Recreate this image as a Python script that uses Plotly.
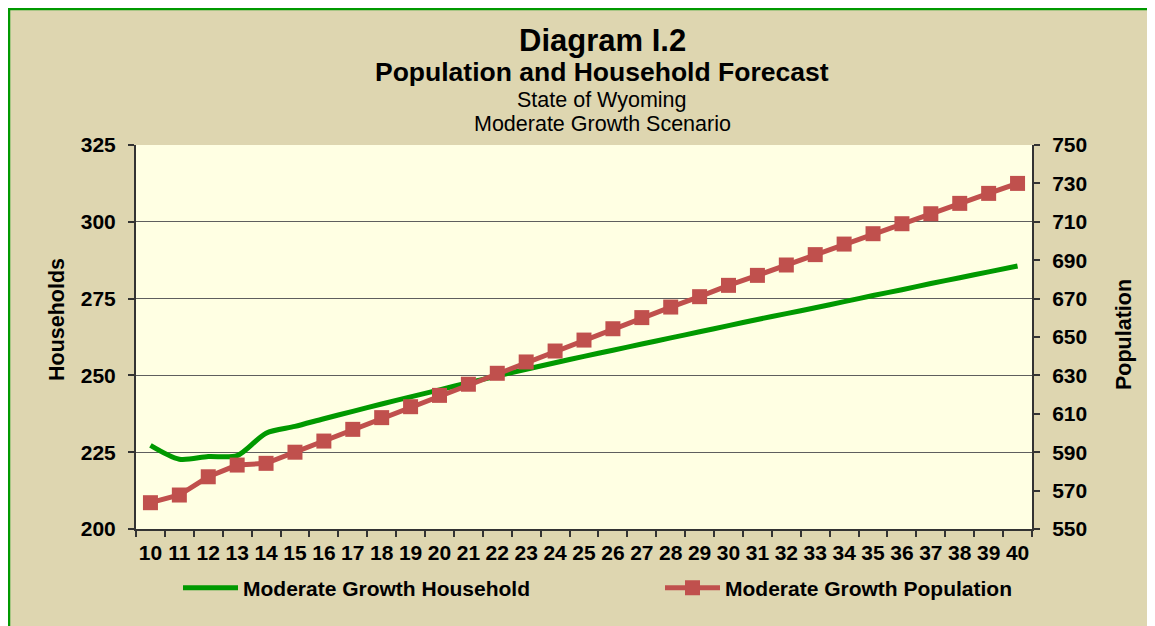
import plotly.graph_objects as go

years = ["10", "11", "12", "13", "14", "15", "16", "17", "18", "19", "20",
         "21", "22", "23", "24", "25", "26", "27", "28", "29", "30",
         "31", "32", "33", "34", "35", "36", "37", "38", "39", "40"]

households = [227.2, 222.7, 223.6, 223.9, 231.2, 233.4, 235.9, 238.3, 240.7, 243.0, 245.3,
              247.6, 249.8, 252.0, 254.1, 256.2, 258.2, 260.2, 262.2, 264.2, 266.2,
              268.2, 270.1, 272.0, 274.0, 276.0, 277.9, 279.9, 281.8, 283.7, 285.6]

population = [563.7, 567.7, 577.2, 583.3, 584.2, 590.0, 595.8, 601.9, 608.0, 613.7, 619.6,
              625.4, 631.1, 637.0, 642.7, 648.4, 654.3, 660.1, 665.6, 671.0, 676.9,
              682.1, 687.5, 692.9, 698.4, 703.8, 709.0, 714.2, 719.6, 724.8, 730.0]

left_ticks = [200, 225, 250, 275, 300, 325]
right_ticks = [550, 570, 590, 610, 630, 650, 670, 690, 710, 730, 750]

FONT = "Liberation Sans, Arial, sans-serif"
TAN = "#DED6B0"
PLOT_BG = "#FFFFE3"
GREEN = "#009900"
RED = "#C0504D"
AXIS = "#333333"
GRID = "#5E5E5E"

fig = go.Figure()
fig.add_trace(go.Scatter(
    x=years, y=households, name="Moderate Growth Household",
    mode="lines", line=dict(color=GREEN, width=5, shape="spline", smoothing=0.8),
    yaxis="y", legend="legend"))
fig.add_trace(go.Scatter(
    x=years, y=population, name="Moderate Growth Population",
    mode="lines+markers", line=dict(color=RED, width=5),
    marker=dict(symbol="square", size=15, color=RED),
    yaxis="y2", legend="legend2"))

tickfont = dict(family=FONT, size=21, color="black", weight="bold")
legfont = dict(family=FONT, size=21, color="black", weight="bold")

# page is offset by the 8px body margin; plot area spans page x 136..1032, y 145..529
fig.update_layout(
    width=1147, height=618,
    margin=dict(l=128, r=123, t=137, b=97),
    paper_bgcolor=TAN, plot_bgcolor=PLOT_BG,
    font=dict(family=FONT, color="black"),
    xaxis=dict(type="category", categoryorder="array", categoryarray=years,
               range=[-0.5, 30.5], tickson="boundaries", ticks="outside", ticklen=6,
               tickcolor=AXIS, tickwidth=1.5, showline=True, linecolor=AXIS, linewidth=2,
               showgrid=False, tickfont=tickfont, tickangle=0, ticklabelstandoff=4),
    yaxis=dict(range=[200, 325], tickvals=left_ticks, ticks="outside", ticklen=6,
               tickcolor=AXIS, tickwidth=1.5, showline=True, linecolor=AXIS, linewidth=2,
               showgrid=True, gridcolor=GRID, gridwidth=1.2, zeroline=False,
               tickfont=tickfont, ticklabelstandoff=8),
    yaxis2=dict(range=[550, 750], tickvals=right_ticks, overlaying="y", side="right",
                ticks="outside", ticklen=6, tickcolor=AXIS, tickwidth=1.5,
                showline=True, linecolor=AXIS, linewidth=2, showgrid=False,
                zeroline=False, tickfont=tickfont, ticklabelstandoff=8),
    legend=dict(orientation="h", x=(178 - 136) / 896, y=(529 - 588) / 384,
                xanchor="left", yanchor="middle", bgcolor="rgba(0,0,0,0)",
                font=legfont, itemwidth=55),
    legend2=dict(orientation="h", x=(660 - 136) / 896, y=(529 - 588) / 384,
                 xanchor="left", yanchor="middle", bgcolor="rgba(0,0,0,0)",
                 font=legfont, itemwidth=55),
    showlegend=True,
)

px = lambda v: (v - 136) / 896
py = lambda v: (529 - v) / 384

# green frame on the left and top of the chart
fig.add_shape(type="line", xref="paper", yref="paper", x0=px(9), x1=px(9), y0=py(700), y1=py(8),
              line=dict(color=GREEN, width=2.5), layer="above")
fig.add_shape(type="line", xref="paper", yref="paper", x0=px(8), x1=px(1160), y0=py(9), y1=py(9),
              line=dict(color=GREEN, width=2.5), layer="above")

titles = [
    ("Diagram I.2", 31, "bold", 40),
    ("Population and Household Forecast", 26.5, "bold", 72),
    ("State of Wyoming", 21.5, "normal", 100),
    ("Moderate Growth Scenario", 21.5, "normal", 124),
]
for text, size, weight, ypix in titles:
    fig.add_annotation(text=text, xref="paper", yref="paper", x=px(602), y=py(ypix),
                       xanchor="center", yanchor="middle", showarrow=False,
                       font=dict(family=FONT, size=size, color="black", weight=weight))

fig.add_annotation(text="Households", xref="paper", yref="paper", x=px(57), y=py(320),
                   textangle=-90, xanchor="center", yanchor="middle", showarrow=False,
                   font=dict(family=FONT, size=21.5, color="black", weight="bold"))
fig.add_annotation(text="Population", xref="paper", yref="paper", x=px(1124), y=py(335),
                   textangle=-90, xanchor="center", yanchor="middle", showarrow=False,
                   font=dict(family=FONT, size=21.5, color="black", weight="bold"))

fig.write_html("out.html")
